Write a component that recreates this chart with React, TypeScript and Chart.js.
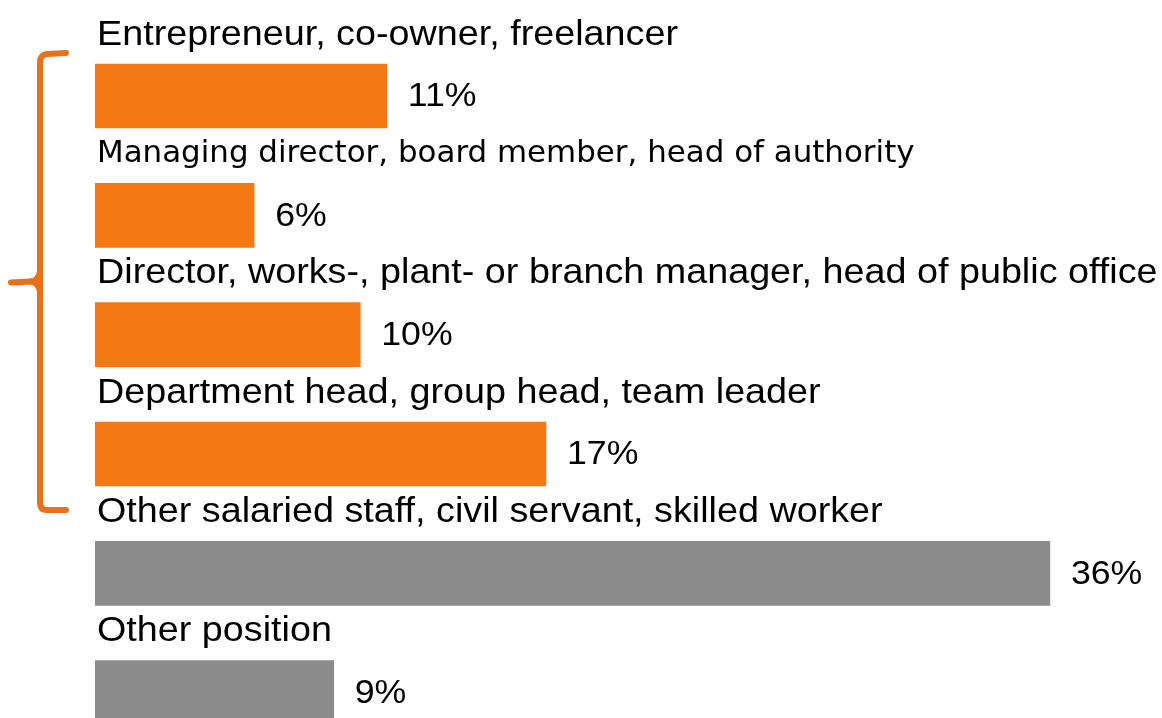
import React, { useEffect, useRef } from "react";
import { Chart, registerables } from "chart.js";

Chart.register(...registerables);

const categories = [
  "Entrepreneur, co-owner, freelancer",
  "Managing director, board member, head of authority",
  "Director, works-, plant- or branch manager, head of public office",
  "Department head, group head, team leader",
  "Other salaried staff, civil servant, skilled worker",
  "Other position",
];
const values = [11, 6, 10, 17, 36, 9];
const isLeadership = [true, true, true, true, false, false];

const ORANGE = "#F47914";
const GRAY = "#8B8B8B";
const BRACKET = "#E8721A";

const W = 1162;
const H = 770;

const labelPlugin = {
  id: "labelPlugin",
  afterDatasetsDraw(chart: any) {
    const ctx = chart.ctx;
    const meta = chart.getDatasetMeta(0);
    const area = chart.chartArea;
    ctx.save();
    ctx.fillStyle = "#000";
    meta.data.forEach((bar: any, i: number) => {
      ctx.textBaseline = "middle";
      ctx.textAlign = "left";
      let sx = 1.078;
      if (i === 1) {
        ctx.font = "30px 'DejaVu Sans', sans-serif";
        sx = 1.03;
      } else {
        ctx.font = "35px 'Liberation Sans', Arial, sans-serif";
      }
      ctx.save();
      ctx.translate(area.left + 2, bar.y - 61);
      ctx.scale(sx, 1);
      ctx.fillText(categories[i], 0, 0);
      ctx.restore();
      ctx.save();
      ctx.font = "34px 'Liberation Sans', Arial, sans-serif";
      ctx.translate(bar.x + 21, bar.y + 1);
      ctx.scale(1.05, 1);
      ctx.fillText(values[i] + "%", 0, 0);
      ctx.restore();
    });
    // bracket
    const ys = chart.scales.y;
    const firstIdx = isLeadership.indexOf(true);
    const lastIdx = isLeadership.lastIndexOf(true);
    const top = ys.getPixelForValue(firstIdx) - 43;
    const bottom = ys.getPixelForValue(lastIdx) + 56;
    const mid = (top + bottom) / 2;
    const x = 40;
    const xr = 66;
    const xl = 11;
    const r = 7;
    ctx.strokeStyle = BRACKET;
    ctx.lineWidth = 6;
    ctx.lineCap = "round";
    ctx.lineJoin = "round";
    ctx.beginPath();
    ctx.moveTo(xr, top);
    ctx.lineTo(x + r, top + 1);
    ctx.quadraticCurveTo(x, top + 2, x, top + r + 2);
    ctx.lineTo(x, bottom - r);
    ctx.quadraticCurveTo(x, bottom, x + r, bottom);
    ctx.lineTo(xr, bottom);
    ctx.stroke();
    ctx.beginPath();
    ctx.moveTo(x, mid - 10);
    ctx.quadraticCurveTo(x - 2, mid, x - 10, mid);
    ctx.lineTo(xl, mid + 1);
    ctx.stroke();
    ctx.beginPath();
    ctx.moveTo(x, mid + 10);
    ctx.quadraticCurveTo(x - 2, mid, x - 10, mid);
    ctx.stroke();
    ctx.restore();
  },
};

export default function App() {
  const ref = useRef<HTMLCanvasElement | null>(null);
  useEffect(() => {
    document.body.style.margin = "0";
    const canvas = ref.current;
    if (!canvas) return;
    const chart = new Chart(canvas, {
      type: "bar",
      data: {
        labels: categories,
        datasets: [
          {
            data: values,
            backgroundColor: isLeadership.map((b) => (b ? ORANGE : GRAY)),
            borderWidth: 0,
            barThickness: 64,
          },
        ],
      },
      options: {
        indexAxis: "y",
        responsive: false,
        animation: false,
        devicePixelRatio: 1,
        layout: { padding: { left: 95, top: 36.3, right: 6, bottom: H - 752.3 } },
        plugins: { legend: { display: false }, tooltip: { enabled: false } },
        scales: {
          x: { display: false, min: 0, max: 40, grid: { display: false } },
          y: { display: false, grid: { display: false } },
        },
      },
      plugins: [labelPlugin],
    });
    return () => chart.destroy();
  }, []);
  return (
    <div style={{ width: W, height: 718, overflow: "hidden", position: "relative", background: "#fff" }}>
      <canvas ref={ref} width={W} height={H} style={{ width: W, height: H, display: "block" }} />
    </div>
  );
}
